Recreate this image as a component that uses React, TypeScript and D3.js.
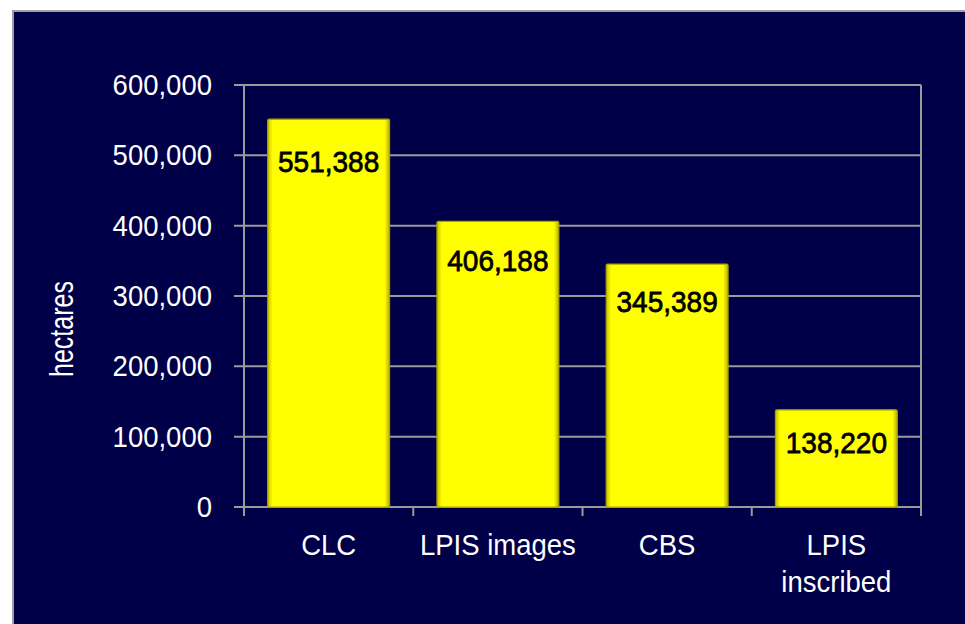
import React from "react";
import * as d3 from "d3";

const categories: string[][] = [["CLC"], ["LPIS images"], ["CBS"], ["LPIS", "inscribed"]];
const values: number[] = [551388, 406188, 345389, 138220];
const yTicks: number[] = [0, 100000, 200000, 300000, 400000, 500000, 600000];
const yLabel = "hectares";

const W = 965;
const H = 624;
const plot = { left: 244, right: 921, top: 85, bottom: 507 };
const FONT = "'Liberation Sans', Arial, sans-serif";

export default function App() {
  const keys = categories.map((c) => c.join(" "));
  const x = d3.scaleBand<string>().domain(keys).range([plot.left, plot.right]).paddingInner(0.28).paddingOuter(0.14);
  const y = d3.scaleLinear().domain([0, 600000]).range([plot.bottom, plot.top]);
  const fmt = d3.format(",");
  const grid = "#9a9a9a";
  const step = x.step();
  const boundaries = d3.range(keys.length + 1).map((i) => plot.left + i * step);

  return (
    <svg width={W} height={H} style={{ position: "absolute", left: 0, top: 0, background: "#ffffff" }}>
      <defs>
        <linearGradient id="edgeH" x1="0" x2="1" y1="0" y2="0">
          <stop offset="0" stopColor="#c9c200" />
          <stop offset="0.04" stopColor="#ffff00" />
          <stop offset="0.96" stopColor="#ffff00" />
          <stop offset="1" stopColor="#b8b000" />
        </linearGradient>
      </defs>
      <rect x={13} y={11} width={W} height={H} fill="#000048" stroke="#a0a0a0" strokeWidth={2} />
      {/* gridlines */}
      {yTicks.map((t) => (
        <line key={"g" + t} x1={plot.left - 10} x2={plot.right} y1={y(t)} y2={y(t)} stroke={grid} strokeWidth={2} />
      ))}
      {/* axes */}
      <line x1={plot.left} x2={plot.left} y1={plot.top} y2={plot.bottom + 9} stroke={grid} strokeWidth={2} />
      <line x1={plot.right} x2={plot.right} y1={plot.top} y2={plot.bottom + 9} stroke={grid} strokeWidth={2} />
      {boundaries.map((bx, i) => (
        <line key={"b" + i} x1={bx} x2={bx} y1={plot.bottom} y2={plot.bottom + 9} stroke={grid} strokeWidth={2} />
      ))}
      {/* bars */}
      {values.map((v, i) => {
        const x0 = x(keys[i])!;
        const top = y(v);
        return (
          <rect key={"bar" + i} x={x0} y={top} width={x.bandwidth()} height={plot.bottom - top} fill="url(#edgeH)" stroke="#a8a000" strokeWidth={1.2} rx={1.5} />
        );
      })}
      {/* value labels */}
      {values.map((v, i) => {
        const top = y(v);
        const base = top + 57.5 - 0.036 * top;
        return (
          <g key={"vl" + i} transform={`translate(${x(keys[i])! + x.bandwidth() / 2},${base}) scale(1,1.08)`}>
            <text x={0} y={0} textAnchor="middle" fontFamily={FONT} fontSize={28} fill="#000000" stroke="#000" strokeWidth={0.7}>
              {fmt(v)}
            </text>
          </g>
        );
      })}
      {/* y tick labels */}
      {yTicks.map((t) => (
        <g key={"yl" + t} transform={`translate(212,${y(t) + 10}) scale(1,1.07)`}>
          <text x={0} y={0} textAnchor="end" fontFamily={FONT} fontSize={27.5} fill="#ffffff">
            {fmt(t)}
          </text>
        </g>
      ))}
      {/* category labels */}
      {categories.map((lines, i) => (
        <g key={"cl" + i} transform={`translate(${x(keys[i])! + x.bandwidth() / 2},0)`}>
          {lines.map((l, j) => (
            <g key={j} transform={`translate(0,${555 + j * 37}) scale(1,1.04)`}>
              <text x={0} y={0} textAnchor="middle" fontFamily={FONT} fontSize={27.5} fill="#ffffff">
                {l}
              </text>
            </g>
          ))}
        </g>
      ))}
      {/* y axis title */}
      <g transform="translate(73,329) rotate(-90)">
        <text x={0} y={0} textAnchor="middle" fontFamily={FONT} fontSize={25} fill="#ffffff" transform="scale(1,1.35)">
          {yLabel}
        </text>
      </g>
    </svg>
  );
}
